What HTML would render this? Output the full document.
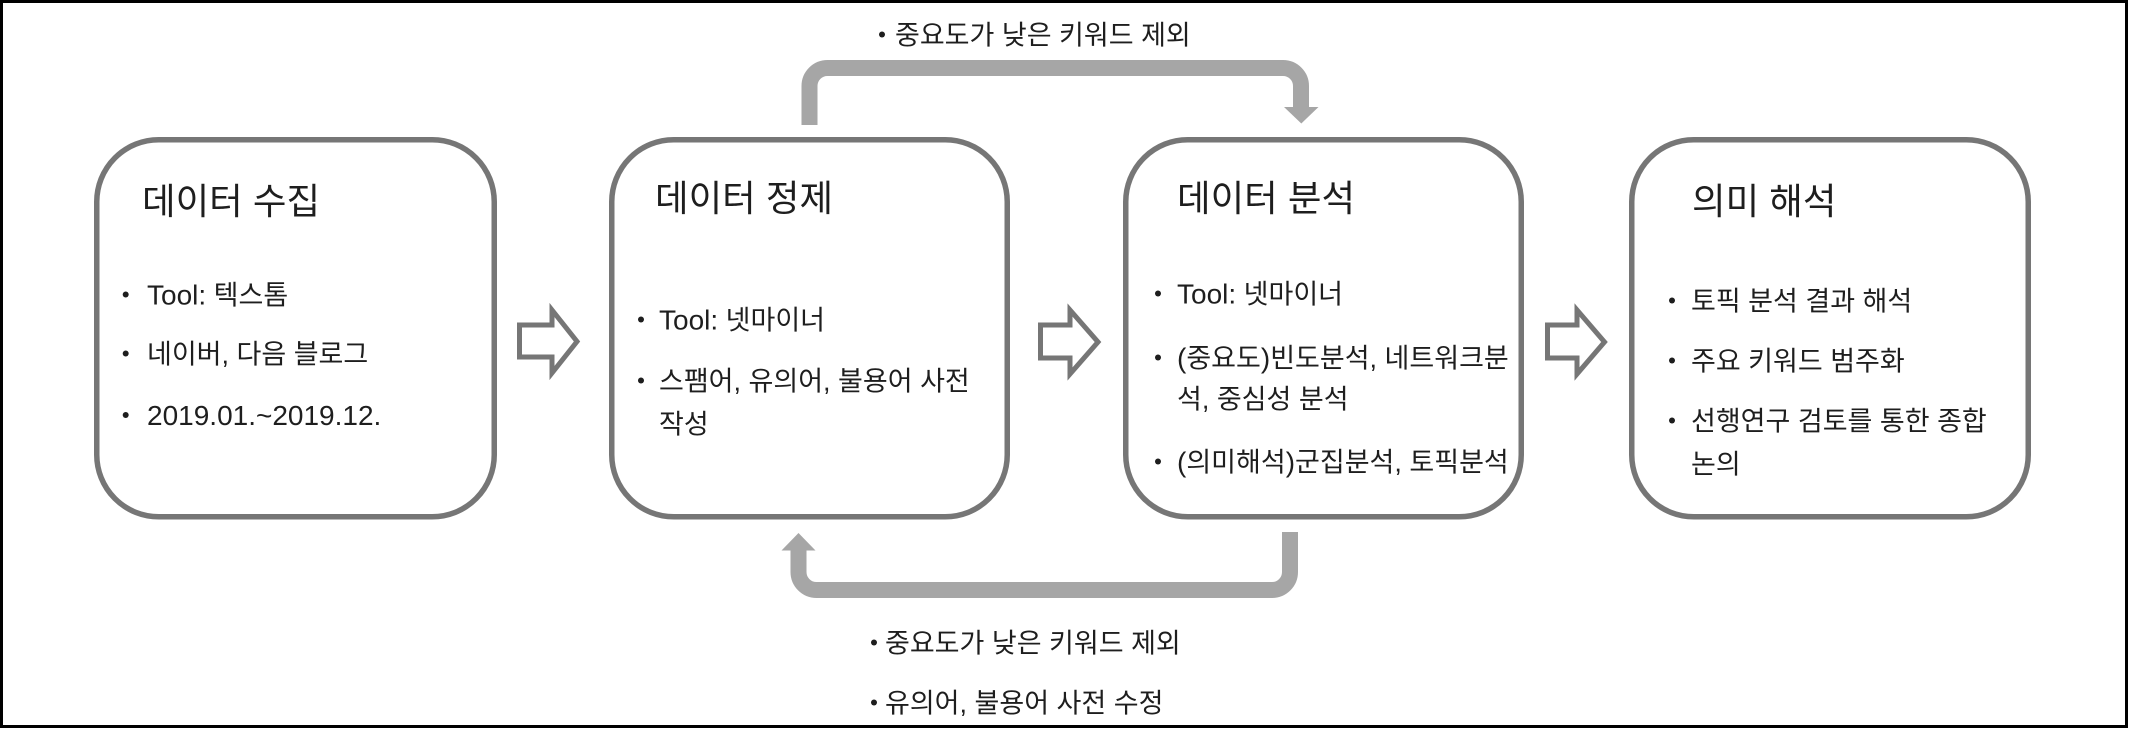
<!DOCTYPE html>
<html>
<head>
<meta charset="utf-8">
<style>
  html, body { margin: 0; padding: 0; background: #ffffff; }
  body { width: 2132px; height: 731px; overflow: hidden; }
  svg { display: block; }
  text { font-family: "Liberation Sans", "Noto Sans CJK KR", sans-serif; fill: #1e1e1e; }
</style>
</head>
<body>
<svg width="2132" height="731" viewBox="0 0 2132 731" xmlns="http://www.w3.org/2000/svg">
  <rect x="0" y="0" width="2132" height="731" fill="#ffffff"/>
  <!-- outer frame -->
  <rect x="1.5" y="1.5" width="2125" height="725" fill="none" stroke="#000" stroke-width="3"/>

  <!-- top feedback connector -->
  <path d="M809.5,125 L809.5,86 A18,18 0 0 1 827.5,68 L1283,68 A18,18 0 0 1 1301,86 L1301,108"
        fill="none" stroke="#a6a6a6" stroke-width="16"/>
  <polygon points="1284,107 1318.5,107 1301.3,123.5" fill="#a6a6a6"/>

  <!-- bottom feedback connector -->
  <path d="M1290,532 L1290,572 A18,18 0 0 1 1272,590 L816.5,590 A18,18 0 0 1 798.5,572 L798.5,549"
        fill="none" stroke="#a6a6a6" stroke-width="16"/>
  <polygon points="781.5,550.5 815.5,550.5 798.5,533" fill="#a6a6a6"/>

  <!-- boxes -->
  <g fill="#ffffff" stroke="#767676" stroke-width="5.5">
    <rect x="96.75" y="139.75" width="397.5" height="377" rx="62" ry="62"/>
    <rect x="611.75" y="139.75" width="395.5" height="377" rx="62" ry="62"/>
    <rect x="1125.75" y="139.75" width="395.5" height="377" rx="62" ry="62"/>
    <rect x="1631.75" y="139.75" width="396.5" height="377" rx="62" ry="62"/>
  </g>

  <!-- hollow block arrows -->
  <g fill="#ffffff" stroke="#767676" stroke-width="5" stroke-linejoin="miter">
    <polygon points="519.5,325 552,325 552,310 577,341.5 552,373 552,357 519.5,357"/>
    <polygon points="1040.5,325 1070,325 1070,310 1098,342 1070,374 1070,358 1040.5,358"/>
    <polygon points="1547.5,325 1577,325 1577,310 1604.5,342 1577,374 1577,358 1547.5,358"/>
  </g>

  <!-- top label -->
  <circle cx="882" cy="34.5" r="3" fill="#1e1e1e"/>
  <text x="895" y="44.5" font-size="27">중요도가 낮은 키워드 제외</text>

  <!-- bottom labels -->
  <circle cx="874" cy="642.5" r="3" fill="#1e1e1e"/>
  <text x="885" y="652.5" font-size="27">중요도가 낮은 키워드 제외</text>
  <circle cx="874" cy="702.5" r="3" fill="#1e1e1e"/>
  <text x="885" y="712.5" font-size="27">유의어, 불용어 사전 수정</text>

  <!-- Box 1 -->
  <text x="142" y="214" font-size="36.5">데이터 수집</text>
  <g fill="#1e1e1e">
    <circle cx="125.7" cy="294.5" r="3"/>
    <circle cx="125.7" cy="353.5" r="3"/>
    <circle cx="125.7" cy="415" r="3"/>
  </g>
  <text x="147" y="304.5" font-size="27"><tspan font-size="28">Tool:</tspan> 텍스톰</text>
  <text x="147" y="363.5" font-size="27">네이버, 다음 블로그</text>
  <text x="147" y="425" font-size="28">2019.01.~2019.12.</text>

  <!-- Box 2 -->
  <text x="655" y="211" font-size="36.5">데이터 정제</text>
  <g fill="#1e1e1e">
    <circle cx="641" cy="319.5" r="3"/>
    <circle cx="641" cy="380.5" r="3"/>
  </g>
  <text x="659" y="329.5" font-size="27"><tspan font-size="28">Tool:</tspan> 넷마이너</text>
  <text x="659" y="390.5" font-size="27">스팸어, 유의어, 불용어 사전</text>
  <text x="659" y="433.5" font-size="27">작성</text>

  <!-- Box 3 -->
  <text x="1177" y="211" font-size="36.5">데이터 분석</text>
  <g fill="#1e1e1e">
    <circle cx="1158" cy="293.5" r="3"/>
    <circle cx="1158" cy="357.5" r="3"/>
    <circle cx="1158" cy="461.5" r="3"/>
  </g>
  <text x="1177" y="303.5" font-size="27"><tspan font-size="28">Tool:</tspan> 넷마이너</text>
  <text x="1177" y="367.5" font-size="27"><tspan font-size="28">(</tspan>중요도<tspan font-size="28">)</tspan>빈도분석, 네트워크분</text>
  <text x="1177" y="408.5" font-size="27">석, 중심성 분석</text>
  <text x="1177" y="471.5" font-size="27"><tspan font-size="28">(</tspan>의미해석<tspan font-size="28">)</tspan>군집분석, 토픽분석</text>

  <!-- Box 4 -->
  <text x="1692" y="214" font-size="36.5">의미 해석</text>
  <g fill="#1e1e1e">
    <circle cx="1672" cy="300.5" r="3"/>
    <circle cx="1672" cy="360.5" r="3"/>
    <circle cx="1672" cy="420.5" r="3"/>
  </g>
  <text x="1691" y="310.5" font-size="27">토픽 분석 결과 해석</text>
  <text x="1691" y="370.5" font-size="27">주요 키워드 범주화</text>
  <text x="1691" y="430.5" font-size="27">선행연구 검토를 통한 종합</text>
  <text x="1691" y="473.5" font-size="27">논의</text>
</svg>
</body>
</html>
